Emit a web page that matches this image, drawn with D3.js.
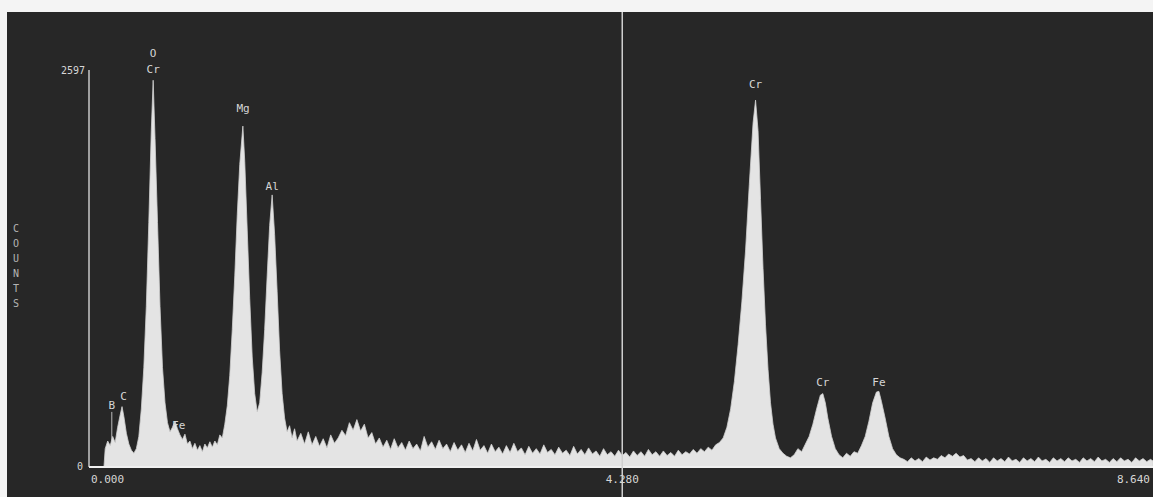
<!DOCTYPE html>
<html>
<head>
<meta charset="utf-8">
<script src="https://cdn.jsdelivr.net/npm/d3@7"></script>
<style>
  html, body { margin: 0; padding: 0; background: #f4f4f4; }
  svg { display: block; }
  text { font-family: "DejaVu Sans Mono", monospace; fill: #d6d6d6; }
</style>
</head>
<body>
<div id="chart"></div>
<script>
    // -------------------------------
    // Data (keV, counts)
    // -------------------------------
    const spectrum = [
      [0.12,0],[0.13,120],[0.15,170],[0.17,140],[0.19,200],[0.21,160],[0.23,260],[0.25,340],[0.265,395],
      [0.28,330],[0.30,220],[0.32,150],[0.34,110],[0.36,90],[0.38,120],[0.40,200],
      // O / Cr L
      [0.42,380],[0.44,650],[0.46,1050],[0.48,1600],[0.50,2200],[0.515,2530],[0.53,2150],[0.55,1600],
      [0.57,1050],[0.59,650],[0.61,420],[0.63,290],[0.65,230],
      // Fe L
      [0.67,260],[0.69,300],[0.71,250],[0.73,210],[0.75,180],[0.77,215],[0.79,150],[0.81,170],[0.83,120],
      [0.85,155],[0.87,110],[0.89,140],[0.91,100],[0.93,150],[0.95,125],[0.97,165],[0.99,130],[1.01,170],
      [1.03,145],[1.05,210],[1.07,190],[1.09,280],
      // Mg
      [1.11,400],[1.13,600],[1.15,900],[1.17,1250],[1.19,1650],[1.21,1980],[1.235,2230],[1.25,2000],
      [1.27,1550],[1.29,1100],[1.31,720],[1.33,480],[1.35,360],
      // Al
      [1.37,420],[1.39,620],[1.41,900],[1.43,1250],[1.45,1580],[1.47,1780],[1.49,1520],[1.51,1150],
      [1.53,760],[1.55,480],[1.57,320],[1.59,230],
      [1.61,270],[1.63,190],[1.65,250],[1.67,170],[1.70,220],[1.73,150],[1.76,230],[1.79,145],[1.82,200],
      [1.85,135],[1.88,185],[1.91,125],[1.94,210],[1.97,155],
      [2.00,190],[2.03,240],[2.06,205],[2.09,290],[2.12,240],[2.15,310],[2.18,235],[2.21,280],[2.24,190],
      [2.27,225],[2.30,150],
      [2.33,190],[2.36,130],[2.39,175],[2.42,115],[2.45,185],[2.48,125],[2.51,160],[2.54,110],[2.57,170],
      [2.60,120],[2.63,150],[2.66,105],[2.69,200],[2.72,130],[2.75,165],[2.78,115],[2.81,175],[2.84,120],
      [2.87,150],[2.90,100],[2.93,160],[2.96,110],[2.99,145],[3.02,95],[3.05,155],[3.08,105],[3.11,180],
      [3.14,110],[3.17,140],[3.20,90],[3.23,150],[3.26,100],[3.29,130],[3.32,85],[3.35,140],[3.38,95],
      [3.41,155],[3.44,100],[3.47,125],[3.50,80],[3.53,135],[3.56,90],[3.59,120],[3.62,85],[3.65,145],
      [3.68,95],[3.71,115],[3.74,80],[3.77,130],[3.80,90],[3.83,110],[3.86,75],[3.89,135],[3.92,85],
      [3.95,115],[3.98,80],[4.01,125],[4.04,85],[4.07,105],[4.10,70],[4.13,120],[4.16,80],[4.19,100],
      [4.22,70],[4.25,110],[4.28,75],[4.31,95],[4.34,65],[4.37,105],[4.40,75],[4.43,100],[4.46,70],
      [4.49,115],[4.52,80],[4.55,100],[4.58,70],[4.61,105],[4.64,75],[4.67,95],[4.70,70],[4.73,110],
      [4.76,80],[4.79,100],[4.82,85],[4.85,115],[4.88,90],
      // Cr K-alpha
      [4.91,120],[4.94,100],[4.97,130],[5.00,110],[5.03,145],[5.06,160],[5.09,190],[5.12,260],[5.15,380],
      [5.18,560],[5.21,800],[5.24,1080],[5.27,1420],[5.30,1850],[5.33,2250],[5.35,2400],[5.37,2200],
      [5.39,1750],[5.41,1300],[5.43,930],[5.45,640],[5.47,420],[5.49,280],[5.51,190],[5.54,120],
      [5.57,90],[5.60,70],[5.63,60],
      // Cr K-beta
      [5.66,80],[5.69,120],[5.72,100],[5.75,150],[5.78,200],[5.81,280],[5.84,380],[5.87,470],[5.89,480],
      [5.91,420],[5.93,320],[5.96,200],[5.99,120],[6.02,80],[6.05,60],[6.08,90],[6.11,70],
      // Fe K-alpha
      [6.14,100],[6.17,90],[6.20,140],[6.23,200],[6.26,300],[6.29,420],[6.32,490],[6.34,495],[6.36,430],
      [6.39,320],[6.42,200],[6.45,120],[6.48,80],[6.51,60],
      [6.54,50],[6.57,35],[6.60,60],[6.63,40],[6.66,55],[6.69,35],[6.72,65],[6.75,45],[6.78,60],[6.81,50],
      [6.84,75],[6.87,60],[6.90,85],[6.93,70],[6.96,90],[6.99,65],[7.02,75],[7.05,45],[7.08,55],[7.11,35],
      [7.14,60],[7.17,40],[7.20,55],[7.23,30],[7.26,60],[7.29,40],[7.32,55],[7.35,35],[7.38,65],[7.41,40],
      [7.44,50],[7.47,30],[7.50,60],[7.53,40],[7.56,55],[7.59,35],[7.62,65],[7.65,40],[7.68,50],[7.71,30],
      [7.74,60],[7.77,40],[7.80,55],[7.83,35],[7.86,60],[7.89,40],[7.92,50],[7.95,30],[7.98,60],[8.01,40],
      [8.04,55],[8.07,35],[8.10,65],[8.13,40],[8.16,50],[8.19,30],[8.22,55],[8.25,35],[8.28,60],[8.31,40],
      [8.34,50],[8.37,30],[8.40,60],[8.43,40],[8.46,55],[8.49,35],[8.52,50],[8.54,40]
    ];

    // element markers: name, energy (keV), counts level where the label sits
    const peakNames  = ['B', 'C', 'O', 'Cr', 'Fe', 'Mg', 'Al', 'Cr', 'Cr', 'Fe'];
    const peakEnergy = [0.183, 0.277, 0.515, 0.515, 0.72, 1.237, 1.47, 5.35, 5.89, 6.34];
    const peakLevel  = [380, 440, 2680, 2575, 250, 2320, 1810, 2480, 530, 530];

    const yMax = 2597;
    const cursorKeV = 4.28;
    const xTickLabels = ['0.000', '4.280', '8.640'];
    const sideLabel = ['C', 'O', 'U', 'N', 'T', 'S'];

    // -------------------------------
    // Layout
    // -------------------------------
    const W = 1153, H = 497;
    const panel = { x: 7, y: 12 };
    const plot = { left: 89, right: 1153, top: 70, bottom: 467 };

    const svg = d3.select('#chart').append('svg')
        .attr('width', W)
        .attr('height', H);

    svg.append('rect')
        .attr('x', panel.x).attr('y', panel.y)
        .attr('width', W - panel.x).attr('height', H - panel.y)
        .attr('fill', '#272727');

    const x = d3.scaleLinear().domain([0, 8.54]).range([plot.left, plot.right]);
    const y = d3.scaleLinear().domain([0, yMax]).range([plot.bottom, plot.top]);

    // marker line for B (the only one that shows above the fill)
    peakNames.forEach((name, i) => {
      if (name === 'B') {
        svg.append('line')
          .attr('x1', x(peakEnergy[i])).attr('x2', x(peakEnergy[i]))
          .attr('y1', y(peakLevel[i]) + 3).attr('y2', plot.bottom)
          .attr('stroke', '#bdbdbd').attr('stroke-width', 1);
      }
    });

    // spectrum
    const area = d3.area()
        .x(d => x(d[0]))
        .y0(plot.bottom)
        .y1(d => y(d[1]))
        .curve(d3.curveLinear);

    svg.append('path')
        .datum(spectrum)
        .attr('d', area)
        .attr('fill', '#e4e4e4')
        .attr('stroke', '#d0d0d0')
        .attr('stroke-width', 0.8);

    // y axis line and baseline
    svg.append('line')
        .attr('x1', plot.left).attr('x2', plot.left)
        .attr('y1', y(yMax)).attr('y2', plot.bottom)
        .attr('stroke', '#c8c8c8').attr('stroke-width', 1.5);
    svg.append('line')
        .attr('x1', plot.left).attr('x2', plot.right)
        .attr('y1', plot.bottom).attr('y2', plot.bottom)
        .attr('stroke', '#f0f0f0').attr('stroke-width', 2);

    // cursor line
    svg.append('line')
        .attr('x1', x(cursorKeV)).attr('x2', x(cursorKeV))
        .attr('y1', panel.y).attr('y2', H)
        .attr('stroke', '#d0d0d0').attr('stroke-width', 1.5);

    // axis labels
    svg.append('text')
        .attr('x', plot.left - 4).attr('y', y(yMax) + 4)
        .attr('text-anchor', 'end').attr('font-size', 10)
        .text(yMax);
    svg.append('text')
        .attr('x', plot.left - 6).attr('y', plot.bottom + 3)
        .attr('text-anchor', 'end').attr('font-size', 10)
        .text('0');

    svg.append('text')
        .attr('x', x(0) + 2).attr('y', plot.bottom + 16)
        .attr('font-size', 11)
        .text(xTickLabels[0]);
    svg.append('text')
        .attr('x', x(cursorKeV)).attr('y', plot.bottom + 16)
        .attr('text-anchor', 'middle').attr('font-size', 11)
        .text(xTickLabels[1]);
    svg.append('text')
        .attr('x', W - 3).attr('y', plot.bottom + 16)
        .attr('text-anchor', 'end').attr('font-size', 11)
        .text(xTickLabels[2]);

    // stacked side label
    svg.selectAll('.side')
      .data(sideLabel)
      .enter().append('text')
        .attr('class', 'side')
        .attr('x', 16).attr('y', (d, i) => 232 + i * 15)
        .attr('text-anchor', 'middle').attr('font-size', 10)
        .attr('opacity', 0.8)
        .text(d => d);

    // element labels
    svg.selectAll('.peak')
      .data(peakNames)
      .enter().append('text')
        .attr('class', 'peak')
        .attr('x', (d, i) => x(peakEnergy[i]))
        .attr('y', (d, i) => y(peakLevel[i]))
        .attr('text-anchor', 'middle').attr('font-size', 11)
        .text(d => d);
</script>
</body>
</html>
